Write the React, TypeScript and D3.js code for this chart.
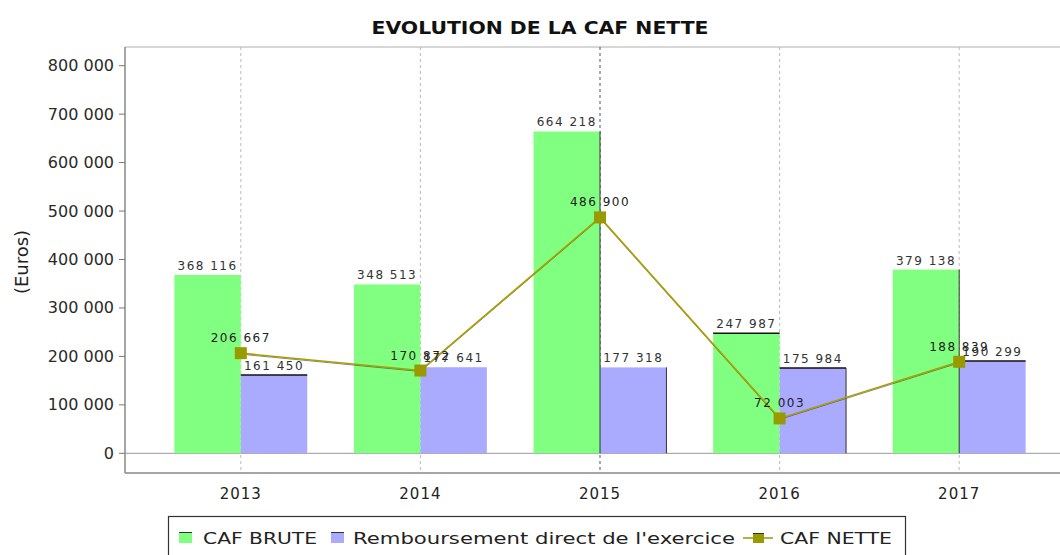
import React from "react";
import * as d3 from "d3";

const years = ["2013", "2014", "2015", "2016", "2017"];
const cafBrute = [368116, 348513, 664218, 247987, 379138];
const remboursement = [161450, 177641, 177318, 175984, 190299];
const cafNette = [206667, 170872, 486900, 72003, 188839];
const yTicks = [0, 100000, 200000, 300000, 400000, 500000, 600000, 700000, 800000];

const W = 1060;
const H = 555;
const plotLeft = 125;
const plotTop = 47;
const plotBottom = 473;

// rendering artefacts of the original: dark edges on some bars
const greenTopEdge = [false, false, false, true, false];
const blueTopEdge = [true, false, false, true, true];
const greenRightEdge = [false, false, true, false, true];
const blueRightEdge = [false, false, true, true, false];

const fmt = (v: number) => {
  const s = Math.round(v).toString();
  return s.replace(/\B(?=(\d{3})+(?!\d))/g, " ");
};

export default function App() {
  const x = d3.scaleBand<string>().domain(years).range([151, 1049]).padding(0);
  const y = d3.scaleLinear().domain([0, 800000]).range([453.3, 65.7]);
  const step = x.bandwidth();
  const bw = step * 0.37;
  const cx = (yr: string) => (x(yr) as number) + step / 2;

  const line = d3
    .line<number>()
    .x((_, i) => cx(years[i]))
    .y((d) => y(d));

  const font = "'DejaVu Sans', sans-serif";

  return (
    <svg
      width={W}
      height={H}
      style={{ position: "absolute", left: 0, top: 0, background: "#fff" }}
      fontFamily={font}
    >
      <rect x={0} y={0} width={W} height={H} fill="#fff" />
      {/* title */}
      <text
        x={540}
        y={34}
        textAnchor="middle"
        fontWeight="bold"
        fontSize={18}
        fill="#111"
        textLength={337}
        lengthAdjust="spacingAndGlyphs"
      >
        EVOLUTION DE LA CAF NETTE
      </text>

      {/* plot frame */}
      <line x1={plotLeft} x2={W} y1={plotTop} y2={plotTop} stroke="#c8c8c8" strokeWidth={1.5} />
      <line x1={plotLeft} x2={W} y1={plotBottom} y2={plotBottom} stroke="#888" strokeWidth={1.5} />
      <line x1={plotLeft} x2={plotLeft} y1={plotTop} y2={plotBottom} stroke="#888" strokeWidth={1.5} />

      {/* vertical gridlines */}
      {years.map((yr, i) => (
        <line
          key={yr}
          x1={cx(yr)}
          x2={cx(yr)}
          y1={plotTop}
          y2={plotBottom}
          stroke={i === 2 ? "#555" : "#bbb"}
          strokeWidth={1}
          strokeDasharray="3,3"
        />
      ))}

      {/* zero line */}
      <line x1={plotLeft} x2={W} y1={y(0)} y2={y(0)} stroke="#999" strokeWidth={1} />

      {/* y axis ticks and labels */}
      {yTicks.map((t) => (
        <g key={t}>
          <line x1={plotLeft - 6} x2={plotLeft} y1={y(t)} y2={y(t)} stroke="#777" strokeWidth={1} />
          <text
            x={114}
            y={y(t) + 5.5}
            textAnchor="end"
            fontSize={16}
            fill="#2a2a2a"
          >
            {fmt(t)}
          </text>
        </g>
      ))}
      <text
        transform={`translate(28,262) rotate(-90)`}
        textAnchor="middle"
        fontSize={18}
        fill="#222"
      >
        (Euros)
      </text>

      {/* x labels */}
      {years.map((yr) => (
        <text
          key={yr}
          x={cx(yr)}
          y={499}
          textAnchor="middle"
          fontSize={15}
          letterSpacing={1}
          fill="#222"
        >
          {yr}
        </text>
      ))}

      {/* bars */}
      {years.map((yr, i) => {
        const c = cx(yr);
        const gTop = y(cafBrute[i]);
        const bTop = y(remboursement[i]);
        const y0 = y(0);
        return (
          <g key={yr}>
            <rect x={c - bw} y={gTop} width={bw} height={y0 - gTop} fill="#80ff80" />
            <rect x={c} y={bTop} width={bw} height={y0 - bTop} fill="#aaaaff" />
            {greenTopEdge[i] && <line x1={c - bw} x2={c} y1={gTop} y2={gTop} stroke="#111" strokeWidth={1.5} />}
            {blueTopEdge[i] && <line x1={c} x2={c + bw} y1={bTop} y2={bTop} stroke="#111" strokeWidth={1.5} />}
            {greenRightEdge[i] && <line x1={c} x2={c} y1={gTop} y2={y0} stroke="#333" strokeWidth={1} />}
            {blueRightEdge[i] && <line x1={c + bw} x2={c + bw} y1={bTop} y2={y0} stroke="#333" strokeWidth={1} />}
          </g>
        );
      })}

      {/* bar labels */}
      {years.map((yr, i) => {
        const c = cx(yr);
        return (
          <g key={"l" + yr} fontSize={12} fill="#333" letterSpacing={1.5}>
            <text x={c - bw / 2} y={y(cafBrute[i]) - 5} textAnchor="middle">
              {fmt(cafBrute[i])}
            </text>
            <text x={c + bw / 2} y={y(remboursement[i]) - 5} textAnchor="middle">
              {fmt(remboursement[i])}
            </text>
          </g>
        );
      })}

      {/* line */}
      <path d={line(cafNette) || ""} fill="none" stroke="#333" strokeWidth={1} transform="translate(0,1)" opacity={0.6} />
      <path d={line(cafNette) || ""} fill="none" stroke="#aaa000" strokeWidth={1.6} />
      {cafNette.map((v, i) => (
        <rect key={i} x={cx(years[i]) - 6} y={y(v) - 6} width={12} height={12} fill="#999900" />
      ))}
      {cafNette.map((v, i) => (
        <text
          key={"n" + i}
          x={cx(years[i])}
          y={y(v) - 11}
          textAnchor="middle"
          fontSize={12}
          letterSpacing={1.5}
          fill="#222"
        >
          {fmt(v)}
        </text>
      ))}

      {/* legend */}
      <rect x={168.5} y={516.5} width={737} height={40} fill="#fff" stroke="#333" strokeWidth={1.2} />
      <rect x={179} y={532} width={13} height={11} fill="#80ff80" />
      <line x1={179} x2={192} y1={532.5} y2={532.5} stroke="#333" />
      <text x={203} y={544} fontSize={16} fill="#222" textLength={114} lengthAdjust="spacingAndGlyphs">
        CAF BRUTE
      </text>
      <rect x={331} y={532} width={13} height={11} fill="#aaaaff" />
      <line x1={331} x2={344} y1={532.5} y2={532.5} stroke="#333" />
      <text x={353} y={544} fontSize={16} fill="#222" textLength={382} lengthAdjust="spacingAndGlyphs">
        Remboursement direct de l'exercice
      </text>
      <line x1={743} x2={773} y1={538} y2={538} stroke="#999900" strokeWidth={1.5} />
      <rect x={753} y={533} width={11} height={10} fill="#999900" />
      <line x1={753} x2={764} y1={533.5} y2={533.5} stroke="#333" />
      <text x={780} y={544} fontSize={16} fill="#222" textLength={112} lengthAdjust="spacingAndGlyphs">
        CAF NETTE
      </text>
    </svg>
  );
}
